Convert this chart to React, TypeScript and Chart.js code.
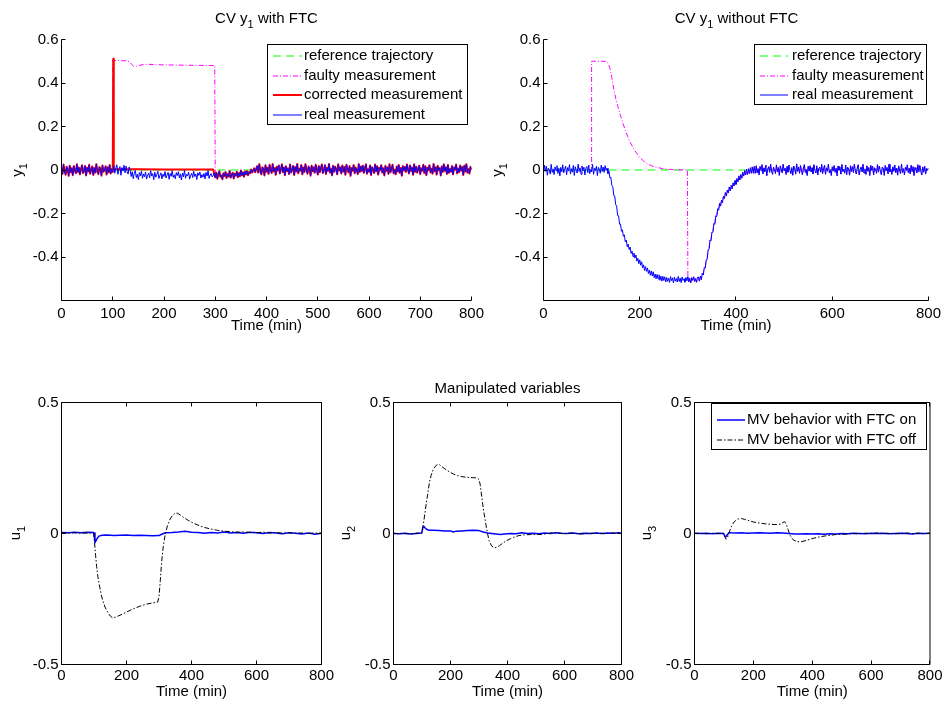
import React, { useEffect, useRef } from 'react';
import { Chart, registerables } from 'chart.js';

Chart.register(...registerables);

const FONT = '"Liberation Sans", Arial, Helvetica, sans-serif';
const W = 945;
const H = 704;

// ---------------- tick values / labels ----------------
const X_TICKS_FINE = [0, 100, 200, 300, 400, 500, 600, 700, 800];
const X_LABELS_FINE = ['0', '100', '200', '300', '400', '500', '600', '700', '800'];
const X_TICKS = [0, 200, 400, 600, 800];
const X_LABELS = ['0', '200', '400', '600', '800'];
const Y_TICKS_CV = [-0.4, -0.2, 0, 0.2, 0.4, 0.6];
const Y_LABELS_CV = ['-0.4', '-0.2', '0', '0.2', '0.4', '0.6'];
const Y_TICKS_MV = [-0.5, 0, 0.5];
const Y_LABELS_MV = ['-0.5', '0', '0.5'];

// ---------------- CV data ----------------
const STEP = 2; // sampling interval (min) of the noisy measurement arrays

// real measurement with FTC, thousandths, t = 0,2,...,800
const Y1_FTC_REAL_MILLI = [
  // t 0-98
  12, -18, 25, -6, -22, 15, 3, -27, 20, -10, 8, -24, 18, -2, -15, 26, -9, 11, -20, 5, 22, -14, -4, 19, -25,
  10, -7, 24, -17, 1, 16, -23, 9, -12, 27, -5, -19, 14, 6, -26, 21, -8, -1, 17, -21, 13, -11, 23, -16, 4,
  // t 100-134
  -9, 20, -15, 7, 24, -20, 2, 16, -24, 11, -5, 22, -13, 18, -8, -19, 14, -3,
  // t 136-298
  -30, -8, -40, -15, -2, -35, -20, -44, -12, -27, -5, -38, -18, -31, -9, -42, -24, -14, -36, -3,
  -28, -17, -45, -10, -33, -21, -6, -39, -25, -13, -41, -19, -30, -7, -37, -23, -11, -43, -16, -29,
  -4, -34, -22, -40, -12, -26, -8, -36, -18, -46, -14, -31, -2, -38, -20, -27, -10, -42, -24, -15,
  -35, -6, -30, -19, -44, -13, -25, -9, -37, -21, -33, -16, -41, -11, -28, -3, -39, -23, -17, -32,
  -26, -12,
  // t 300-358
  -34, -12, -40, -20, -6, -31, -25, -43, -15, -28, -9, -37, -18, -30, -4, -35, -22, -13, -39, -17,
  -26, -8, -33, -14, -29, -2, -24, -11, -31, -7,
  // t 360-380
  -20, -5, -24, -9, -15, 2, -12, -3, 8, -10, 5,
  // t 382-800
  18, -12, 27, -4, -20, 13, 5, -25, 22, -8, 10, -18, 24, 0, -14, 28, -6, 9, -22, 15, -2,
  21, -16, 3, 26, -10, 12, -24, 17, -5, 7, -19, 25, -11, 2, 19, -23, 14, -7, 28, -15, 6,
  -3, 23, -20, 11, -9, 27, -1, -17, 16, 8, -26, 20, -6, 13, -13, 24, 4, -21, 18, -10, 9,
  25, -14, 1, 22, -18, 10, -4, 28, -12, 6, -24, 19, -8, 15, 3, -20, 26, -2, 12, -16, 21,
  -7, 14, -22, 24, 5, -11, 18, -27, 9, -3, 23, -15, 11, 0, -19, 27, -9, 16, -5, 20, -13,
  7, 26, -17, 4, -8, 21, -23, 13, 2, -14, 25, -6, 17, -21, 10, -1, 22, -12, 8, -25, 19,
  -4, 12, -18, 27, -10, 6, 24, -15, 1, -20, 16, -7, 23, -13, 9, -26, 18, -2, 14, -9, 25,
  3, -16, 21, -5, 11, -22, 26, -8, 15, -12, 4, 20, -19, 8, -3, 24, -14, 17, -24, 10, 0,
  22, -11, 6, -17, 28, -6, 13, -21, 19, -1, 9, -25, 16, -9, 26, -4, 12, -18, 23, -13, 5,
  -8, 18, -20, 11, 2, 25, -15, 7, -10, 21, -3, 14, -23, 20, -7, 27, -12, 4, -16, 15, 1,
];

// real measurement without FTC, thousandths, t = 0,2,...,800
const Y1_NOFTC_REAL_MILLI = [
  // t 0-130
  -15, 22, -6, 17, -24, 9, 1, -19, 26, -11, 5, -21, 14, -3, 20, -16, 8, -27, 12, -8, 24, -13, 3, 18, -22,
  11, -5, 25, -18, 6, -10, 21, -25, 15, -1, -14, 27, -7, 10, -20, 19, -4, 13, -23, 7, 16, -12, 23, -17, 2,
  -9, 26, -20, 8, -3, 17, -26, 12, 4, -15, 22, -7, 14, -11, 20, -2,
  // t 132-250
  8, -17, -5, -37, -34, -72, -76, -117, -119, -159, -166, -209, -210, -249, -248, -282, -275, -305, -298, -330,
  -322, -353, -341, -366, -354, -384, -373, -398, -382, -405, -391, -419, -406, -431, -413, -438, -422, -450, -436, -462,
  -444, -466, -450, -476, -460, -484, -464, -487, -468, -495, -478, -500, -480, -501, -482, -507, -488, -511, -489, -508,
  // t 252-320
  -491, -515, -494, -512, -498, -517, -490, -509, -496, -519, -493, -511, -499, -515, -489, -513, -497, -518, -492, -508,
  -500, -516, -494, -510, -490, -514, -498, -519, -495, -507, -491, -513, -499, -516, -493,
  // t 322-440
  -492, -511, -488, -504, -475, -483, -449, -452, -414, -412, -368, -365, -322, -324, -286, -286, -246, -250, -211, -214,
  -178, -185, -153, -166, -138, -150, -120, -131, -104, -120, -93, -106, -78, -96, -71, -86, -59, -73, -48, -66,
  -39, -54, -27, -46, -21, -38, -11, -28, -2, -23, 3, -20, 6, -16, 11, -15, 14, -15, 16, -15,
  // t 442-800
  20, -14, 6, -23, 17, -2, 25, -18, 10, -9, 22, -26, 4, 15, -11, 27, -6, -20, 13, 1,
  -16, 24, -8, 11, -25, 19, 3, -13, 26, -4, 8, -21, 16, -10, 23, -1, -17, 12, -24, 18,
  5, -19, 28, -7, 14, -15, 21, -3, -22, 9, 25, -12, 2, -26, 17, -5, 20, -9, 11, -18,
  24, -2, -14, 19, -23, 7, 13, -10, 27, -16, 4, 22, -20, 10, -6, 26, -13, 1, -25, 15,
  -4, 21, -11, 8, -27, 18, -1, 14, -19, 25, -8, 3, -15, 23, -21, 12, 6, -24, 20, -7,
  16, -12, 27, -3, -18, 9, 24, -22, 2, 13, -9, 26, -14, 5, -20, 19, -6, 11, -26, 22,
  -1, 17, -23, 10, 4, -15, 25, -10, 18, -5, -21, 14, 7, -25, 21, -3, 12, -17, 26, -8,
  3, -20, 15, -6, 23, -12, 9, -24, 19, 0, -16, 27, -11, 6, -22, 13, -2, 24, -13, 8,
  -18, 22, -7, 16, -26, 11, 2, -14, 25, -9, 20, -4, -23, 14, -10, 18, -19, 7, -1, 10,
];

const REFERENCE: [number, number][] = [[0, 0], [800, 0]];

// faulty measurement (with FTC) during the fault
const Y1_FTC_FAULTY_FAULT: [number, number][] = [
  [100, -0.009], [100, 0.504], [128, 0.502], [133, 0.497], [137, 0.485], [141, 0.476], [146, 0.477],
  [152, 0.481], [160, 0.485], [170, 0.486], [185, 0.484], [210, 0.483], [240, 0.482], [270, 0.481], [299, 0.48],
];

// corrected measurement (with FTC) during the fault
const Y1_FTC_CORRECTED_FAULT: [number, number][] = [
  [101, 0.511], [102, 0.004], [106, 0.003], [150, 0.003], [200, 0.002], [250, 0.002], [296, 0.002],
];

// faulty measurement (without FTC) during the fault
const Y1_NOFTC_FAULTY_FAULT: [number, number][] = [
  [100, -0.009], [100, 0.5], [130, 0.5], [134, 0.492], [138, 0.468], [142, 0.425], [146, 0.372], [150, 0.33],
  [155, 0.288], [160, 0.25], [165, 0.215], [170, 0.183], [175, 0.154], [180, 0.128], [186, 0.103], [192, 0.082],
  [200, 0.058], [208, 0.041], [216, 0.029], [224, 0.02], [235, 0.012], [249, 0.006], [262, 0.003], [280, 0.001], [299, 0.0],
];

// ---------------- MV data ----------------
const U1_ON: [number, number][] = [
  [0, 0.004], [20, 0.003], [40, 0.005], [60, 0.003], [80, 0.005], [98, 0.004], [100, 0.002], [103, -0.035], [106, -0.028],
  [110, -0.018], [115, -0.01], [125, -0.007], [140, -0.006], [160, -0.008], [180, -0.007], [200, -0.006], [220, -0.008],
  [240, -0.007], [260, -0.008], [280, -0.009], [300, -0.008], [310, -0.002], [320, 0.003], [340, 0.004], [360, 0.006],
  [380, 0.009], [400, 0.005], [420, 0.004], [440, 0.001], [460, 0.004], [480, 0.002], [500, 0.006], [520, 0.002],
  [540, 0.004], [560, 0.001], [580, 0.005], [600, 0.003], [620, 0.0], [640, 0.004], [660, 0.002], [680, -0.001],
  [700, 0.003], [720, 0.001], [740, -0.002], [760, 0.002], [780, -0.003], [800, 0.001],
];
const U1_OFF: [number, number][] = [
  [0, 0.002], [20, 0.001], [40, 0.003], [60, 0.001], [80, 0.002], [99, 0.002], [102, -0.04], [105, -0.085], [108, -0.125],
  [112, -0.165], [117, -0.2], [122, -0.233], [128, -0.26], [135, -0.284], [143, -0.302], [150, -0.315], [157, -0.322],
  [165, -0.32], [180, -0.312], [200, -0.3], [220, -0.288], [240, -0.278], [260, -0.27], [280, -0.265], [296, -0.262],
  [300, -0.24], [304, -0.18], [308, -0.11], [313, -0.05], [319, -0.005], [326, 0.03], [334, 0.055], [342, 0.07],
  [350, 0.078], [358, 0.077], [366, 0.07], [375, 0.062], [390, 0.05], [405, 0.04], [420, 0.032], [440, 0.023],
  [460, 0.017], [480, 0.012], [500, 0.009], [520, 0.007], [540, 0.005], [560, 0.006], [580, 0.004], [600, 0.003],
  [620, 0.005], [640, 0.002], [660, 0.004], [680, 0.001], [700, 0.003], [720, 0.001], [740, 0.002], [760, 0.0],
  [780, 0.002], [800, 0.001],
];
const U2_ON: [number, number][] = [
  [0, 0.0], [20, -0.001], [40, 0.001], [60, -0.002], [80, 0.0], [99, 0.002], [103, 0.022], [107, 0.027], [112, 0.02],
  [118, 0.015], [125, 0.012], [140, 0.012], [160, 0.011], [180, 0.01], [200, 0.01], [210, 0.006], [220, 0.009],
  [240, 0.01], [260, 0.011], [280, 0.012], [300, 0.011], [315, 0.006], [330, 0.002], [345, 0.0], [360, -0.002],
  [375, -0.004], [390, -0.002], [410, 0.0], [430, -0.001], [450, 0.003], [470, 0.0], [490, 0.001], [510, -0.001],
  [530, 0.002], [550, 0.0], [570, 0.003], [590, 0.001], [610, 0.0], [630, 0.002], [650, -0.001], [670, 0.001],
  [690, 0.0], [710, 0.002], [730, 0.0], [750, 0.002], [770, 0.001], [790, 0.003], [800, 0.001],
];
const U2_OFF: [number, number][] = [
  [0, 0.001], [20, -0.001], [40, 0.0], [60, -0.002], [80, 0.001], [99, 0.002], [102, 0.02], [106, 0.045], [110, 0.075],
  [115, 0.115], [120, 0.15], [126, 0.195], [132, 0.222], [140, 0.245], [148, 0.258], [155, 0.264], [162, 0.262],
  [170, 0.255], [180, 0.247], [195, 0.236], [210, 0.227], [225, 0.221], [240, 0.217], [260, 0.214], [280, 0.213],
  [294, 0.212], [300, 0.206], [304, 0.188], [308, 0.155], [313, 0.112], [318, 0.076], [324, 0.035], [330, 0.0],
  [335, -0.026], [344, -0.047], [353, -0.055], [362, -0.053], [372, -0.046], [382, -0.038], [395, -0.028],
  [410, -0.02], [425, -0.013], [440, -0.008], [460, -0.005], [480, -0.004], [500, -0.003], [520, -0.004], [540, 0.0],
  [560, 0.003], [580, 0.001], [600, -0.001], [620, 0.002], [640, 0.0], [660, -0.002], [680, 0.001], [700, 0.0],
  [720, 0.002], [740, -0.001], [760, 0.001], [780, 0.002], [800, 0.0],
];
const U3_ON: [number, number][] = [
  [0, 0.001], [20, 0.0], [40, 0.001], [60, -0.001], [80, 0.001], [99, 0.0], [103, -0.01], [107, -0.012], [112, -0.004],
  [118, 0.004], [125, 0.003], [140, 0.002], [160, 0.003], [180, 0.001], [200, 0.002], [220, 0.003], [240, 0.002],
  [260, 0.001], [280, 0.003], [300, 0.002], [320, 0.0], [340, -0.002], [360, -0.002], [380, -0.001], [400, -0.002],
  [420, -0.001], [440, -0.003], [460, -0.001], [480, -0.002], [500, 0.0], [520, -0.001], [540, 0.001], [560, 0.0],
  [580, -0.001], [600, 0.001], [620, 0.0], [640, 0.001], [660, -0.001], [680, 0.0], [700, 0.001], [720, 0.0],
  [740, -0.002], [760, 0.001], [780, 0.0], [800, 0.001],
];
const U3_OFF: [number, number][] = [
  [0, 0.0], [20, 0.001], [40, -0.001], [60, 0.001], [80, 0.0], [99, 0.001], [103, -0.012], [107, -0.022], [111, -0.018],
  [115, -0.006], [120, 0.012], [126, 0.028], [132, 0.04], [140, 0.05], [150, 0.056], [160, 0.057], [170, 0.054],
  [185, 0.049], [200, 0.044], [220, 0.04], [240, 0.037], [260, 0.035], [280, 0.034], [292, 0.036], [300, 0.042],
  [306, 0.045], [312, 0.035], [318, 0.015], [324, -0.005], [330, -0.018], [338, -0.026], [348, -0.031], [360, -0.032],
  [375, -0.028], [390, -0.023], [405, -0.018], [420, -0.014], [440, -0.01], [460, -0.007], [480, -0.004], [500, -0.003],
  [520, -0.002], [540, 0.0], [560, -0.001], [580, 0.001], [600, 0.0], [620, 0.002], [640, 0.0], [660, 0.001],
  [680, -0.001], [700, 0.001], [720, 0.002], [740, 0.0], [760, 0.001], [780, -0.001], [800, 0.001],
];

// ---------------- series assembly ----------------
type Pt = { x: number; y: number };
const fromMilli = (a: number[]): Pt[] => a.map((v, i) => ({ x: i * STEP, y: v / 1000 }));
const fromPairs = (a: [number, number][]): Pt[] => a.map(([x, y]) => ({ x, y }));
const I100 = 100 / STEP;
const I300 = 300 / STEP;

const realFtc = fromMilli(Y1_FTC_REAL_MILLI);
const realNoFtc = fromMilli(Y1_NOFTC_REAL_MILLI);
const faultyFtc = [...fromPairs(Y1_FTC_FAULTY_FAULT), ...realFtc.slice(I300)];
const correctedFtc = [...realFtc.slice(0, I100 + 1), ...fromPairs(Y1_FTC_CORRECTED_FAULT), ...realFtc.slice(I300)];
const faultyNoFtc = [...fromPairs(Y1_NOFTC_FAULTY_FAULT), ...realNoFtc.slice(I300)];

// ---------------- styles ----------------
const GREEN = '#00ff00';
const MAGENTA = '#ff00ff';
const RED = '#ff0000';
const BLUE = '#0000ff';
const BLACK = '#000000';
const DASH = [8, 5];
const DASHDOT = [5, 2, 1, 2];
const DASHDOT_K = [5, 2, 1.5, 2];

const ds = (label: string, data: Pt[], color: string, width: number, dash: number[], order: number) => ({
  label,
  data,
  borderColor: color,
  backgroundColor: color,
  borderWidth: width,
  borderDash: dash,
  pointRadius: 0,
  pointHoverRadius: 0,
  tension: 0,
  fill: false,
  order,
  borderJoinStyle: 'round' as const,
  borderCapStyle: 'butt' as const,
});

type Rich = { t: string; sub?: boolean }[];
interface LegendSpec { x0: number; y0: number; x1: number; y1: number; rows: number[]; lx0: number; lx1: number; tx: number }
interface Panel {
  area: { l: number; t: number; r: number; b: number };
  xh: number;
  xTicks: number[]; xLabels: string[];
  yMin: number; yMax: number; yTicks: number[]; yLabels: string[];
  box: boolean;
  xTickPad: number; xTitlePad: number;
  datasets: any[];
  title?: { parts: Rich; x: number; y: number };
  yTitle: { parts: Rich; x: number; y: number };
  legend?: LegendSpec;
}

const FS = 15;
const SUB_FS = 11;

const PANELS: Panel[] = [
  {
    area: { l: 61.5, t: 39.5, r: 471.5, b: 300.5 }, xh: 40,
    xTicks: X_TICKS_FINE, xLabels: X_LABELS_FINE,
    yMin: -0.6, yMax: 0.6, yTicks: Y_TICKS_CV, yLabels: Y_LABELS_CV,
    box: false, xTickPad: 4, xTitlePad: 5.5,
    datasets: [
      ds('reference trajectory', fromPairs(REFERENCE), GREEN, 1, DASH, 3),
      ds('faulty measurement', faultyFtc, MAGENTA, 1, DASHDOT, 2),
      ds('corrected measurement', correctedFtc, RED, 2, [], 1),
      ds('real measurement', realFtc, BLUE, 1, [], 0),
    ],
    title: { parts: [{ t: 'CV y' }, { t: '1', sub: true }, { t: ' with FTC' }], x: 266.5, y: 22.5 },
    yTitle: { parts: [{ t: 'y' }, { t: '1', sub: true }], x: 21.5, y: 170 },
    legend: { x0: 267.5, y0: 44.5, x1: 467.5, y1: 124.5, rows: [56, 76, 95, 115], lx0: 273, lx1: 302, tx: 304 },
  },
  {
    area: { l: 543.5, t: 39.5, r: 930.5, b: 300.5 }, xh: 40,
    xTicks: X_TICKS, xLabels: X_LABELS,
    yMin: -0.6, yMax: 0.6, yTicks: Y_TICKS_CV, yLabels: Y_LABELS_CV,
    box: false, xTickPad: 4, xTitlePad: 5.5,
    datasets: [
      ds('reference trajectory', fromPairs(REFERENCE), GREEN, 1, DASH, 2),
      ds('faulty measurement', faultyNoFtc, MAGENTA, 1, DASHDOT, 1),
      ds('real measurement', realNoFtc, BLUE, 1, [], 0),
    ],
    title: { parts: [{ t: 'CV y' }, { t: '1', sub: true }, { t: ' without FTC' }], x: 736.5, y: 22.5 },
    yTitle: { parts: [{ t: 'y' }, { t: '1', sub: true }], x: 502, y: 170 },
    legend: { x0: 754.5, y0: 44.5, x1: 926.5, y1: 104.5, rows: [56, 76, 95], lx0: 760, lx1: 788, tx: 792 },
  },
  {
    area: { l: 61.5, t: 402.5, r: 321.5, b: 664.5 }, xh: 39.5,
    xTicks: X_TICKS, xLabels: X_LABELS,
    yMin: -0.5, yMax: 0.5, yTicks: Y_TICKS_MV, yLabels: Y_LABELS_MV,
    box: true, xTickPad: 2.5, xTitlePad: 3.5,
    datasets: [
      ds('MV behavior with FTC on', fromPairs(U1_ON), BLUE, 1.5, [], 1),
      ds('MV behavior with FTC off', fromPairs(U1_OFF), BLACK, 1, DASHDOT_K, 0),
    ],
    yTitle: { parts: [{ t: 'u' }, { t: '1', sub: true }], x: 20, y: 533 },
  },
  {
    area: { l: 393.5, t: 402.5, r: 621.5, b: 664.5 }, xh: 39.5,
    xTicks: X_TICKS, xLabels: X_LABELS,
    yMin: -0.5, yMax: 0.5, yTicks: Y_TICKS_MV, yLabels: Y_LABELS_MV,
    box: true, xTickPad: 2.5, xTitlePad: 3.5,
    datasets: [
      ds('MV behavior with FTC on', fromPairs(U2_ON), BLUE, 1.5, [], 1),
      ds('MV behavior with FTC off', fromPairs(U2_OFF), BLACK, 1, DASHDOT_K, 0),
    ],
    title: { parts: [{ t: 'Manipulated variables' }], x: 507.5, y: 392.5 },
    yTitle: { parts: [{ t: 'u' }, { t: '2', sub: true }], x: 350, y: 533 },
  },
  {
    area: { l: 694.5, t: 402.5, r: 930.5, b: 664.5 }, xh: 39.5,
    xTicks: X_TICKS, xLabels: X_LABELS,
    yMin: -0.5, yMax: 0.5, yTicks: Y_TICKS_MV, yLabels: Y_LABELS_MV,
    box: true, xTickPad: 2.5, xTitlePad: 3.5,
    datasets: [
      ds('MV behavior with FTC on', fromPairs(U3_ON), BLUE, 1.5, [], 1),
      ds('MV behavior with FTC off', fromPairs(U3_OFF), BLACK, 1, DASHDOT_K, 0),
    ],
    yTitle: { parts: [{ t: 'u' }, { t: '3', sub: true }], x: 651, y: 533 },
    legend: { x0: 711.5, y0: 403.5, x1: 926.5, y1: 449.5, rows: [420, 440], lx0: 717, lx1: 745, tx: 747 },
  },
];

// ---------------- drawing helpers ----------------
function drawRich(ctx: CanvasRenderingContext2D, parts: Rich, x: number, y: number, rot: number) {
  ctx.save();
  ctx.translate(x, y);
  ctx.rotate(rot);
  ctx.fillStyle = '#000';
  ctx.textBaseline = 'alphabetic';
  ctx.textAlign = 'left';
  const fontOf = (p: { sub?: boolean }) => `${p.sub ? SUB_FS : FS}px ${FONT}`;
  const widths = parts.map((p) => {
    ctx.font = fontOf(p);
    return ctx.measureText(p.t).width;
  });
  let cx = -widths.reduce((a, b) => a + b, 0) / 2;
  parts.forEach((p, i) => {
    ctx.font = fontOf(p);
    ctx.fillText(p.t, cx, p.sub ? 5 : 0);
    cx += widths[i];
  });
  ctx.restore();
}

function makeDecor(p: Panel) {
  return {
    id: 'matlabDecor',
    afterDraw(chart: any) {
      const ctx: CanvasRenderingContext2D = chart.ctx;
      const { left, right, top, bottom } = chart.chartArea;
      const xs = chart.scales.x;
      const ys = chart.scales.y;
      const TL = 4;
      ctx.save();
      ctx.strokeStyle = '#000';
      ctx.lineWidth = 1;
      ctx.setLineDash([]);
      ctx.beginPath();
      ctx.moveTo(left, top);
      ctx.lineTo(left, bottom);
      ctx.lineTo(right, bottom);
      if (p.box) {
        ctx.lineTo(right, top);
        ctx.lineTo(left, top);
      }
      p.xTicks.forEach((v) => {
        const px = Math.round(xs.getPixelForValue(v) - 0.5) + 0.5;
        ctx.moveTo(px, bottom);
        ctx.lineTo(px, bottom - TL);
        if (p.box) {
          ctx.moveTo(px, top);
          ctx.lineTo(px, top + TL);
        }
      });
      p.yTicks.forEach((v) => {
        const py = Math.round(ys.getPixelForValue(v) - 0.5) + 0.5;
        ctx.moveTo(left, py);
        ctx.lineTo(left + TL, py);
        if (p.box) {
          ctx.moveTo(right, py);
          ctx.lineTo(right - TL, py);
        }
      });
      ctx.stroke();

      if (p.legend) {
        const L = p.legend;
        ctx.fillStyle = '#fff';
        ctx.fillRect(L.x0, L.y0, L.x1 - L.x0, L.y1 - L.y0);
        ctx.strokeStyle = '#000';
        ctx.lineWidth = 1;
        ctx.strokeRect(L.x0, L.y0, L.x1 - L.x0, L.y1 - L.y0);
        p.datasets.forEach((d, i) => {
          const y = L.rows[i];
          ctx.save();
          ctx.strokeStyle = d.borderColor;
          ctx.lineWidth = d.borderWidth;
          ctx.setLineDash(d.borderDash || []);
          ctx.beginPath();
          ctx.moveTo(L.lx0, y);
          ctx.lineTo(L.lx1, y);
          ctx.stroke();
          ctx.restore();
          ctx.fillStyle = '#000';
          ctx.font = `${FS}px ${FONT}`;
          ctx.textBaseline = 'middle';
          ctx.textAlign = 'left';
          ctx.fillText(d.label, L.tx, y);
        });
      }
      ctx.restore();

      if (p.title) drawRich(ctx, p.title.parts, p.title.x, p.title.y, 0);
      drawRich(ctx, p.yTitle.parts, p.yTitle.x, p.yTitle.y, -Math.PI / 2);
    },
  };
}

function buildConfig(p: Panel): any {
  const { l, t, r, b } = p.area;
  return {
    type: 'line',
    data: { datasets: p.datasets },
    plugins: [makeDecor(p)],
    options: {
      responsive: false,
      maintainAspectRatio: false,
      animation: false,
      devicePixelRatio: 1,
      events: [],
      layout: { padding: { left: 0, top: t, right: W - r, bottom: H - b - p.xh } },
      plugins: { legend: { display: false }, tooltip: { enabled: false }, title: { display: false } },
      scales: {
        x: {
          type: 'linear',
          min: 0,
          max: 800,
          afterBuildTicks: (s: any) => {
            s.ticks = p.xTicks.map((v) => ({ value: v }));
          },
          afterFit: (s: any) => {
            s.height = p.xh;
          },
          ticks: {
            autoSkip: false,
            maxRotation: 0,
            minRotation: 0,
            padding: p.xTickPad,
            color: '#000',
            font: { family: FONT, size: FS },
            callback: (_v: any, i: number) => p.xLabels[i],
          },
          grid: { display: false, drawTicks: false, tickLength: 0 },
          border: { display: false },
          title: {
            display: true,
            text: 'Time (min)',
            color: '#000',
            font: { family: FONT, size: FS },
            padding: { top: 0, bottom: p.xTitlePad },
          },
        },
        y: {
          type: 'linear',
          min: p.yMin,
          max: p.yMax,
          afterBuildTicks: (s: any) => {
            s.ticks = p.yTicks.map((v) => ({ value: v }));
          },
          afterFit: (s: any) => {
            s.width = l;
          },
          ticks: {
            autoSkip: false,
            padding: 3,
            color: '#000',
            font: { family: FONT, size: FS },
            callback: (_v: any, i: number) => p.yLabels[i],
          },
          grid: { display: false, drawTicks: false, tickLength: 0 },
          border: { display: false },
        },
      },
    },
  };
}

export default function App() {
  const refs = useRef<(HTMLCanvasElement | null)[]>([]);
  useEffect(() => {
    const charts = PANELS.map((p, i) => new Chart(refs.current[i] as HTMLCanvasElement, buildConfig(p)));
    return () => charts.forEach((c) => c.destroy());
  }, []);
  return (
    <div style={{ position: 'absolute', left: 0, top: 0, width: W, height: H, background: '#fff', overflow: 'hidden' }}>
      {PANELS.map((_, i) => (
        <canvas
          key={i}
          ref={(el) => {
            refs.current[i] = el;
          }}
          width={W}
          height={H}
          style={{ position: 'absolute', left: 0, top: 0, width: W, height: H }}
        />
      ))}
    </div>
  );
}
